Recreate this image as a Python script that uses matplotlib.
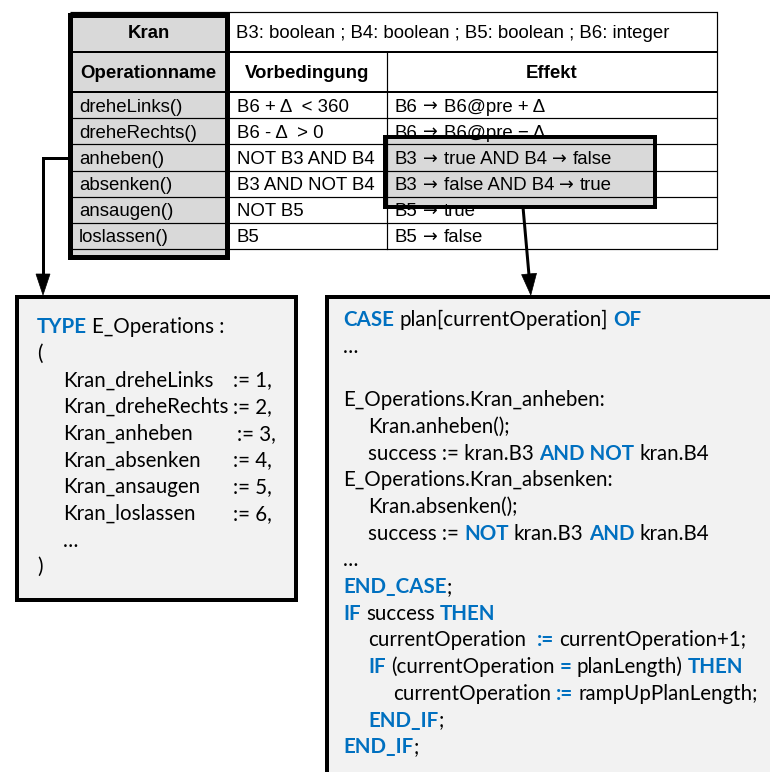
import re
import matplotlib
matplotlib.use("Agg")
import matplotlib.pyplot as plt
from matplotlib.patches import Rectangle, Polygon
from matplotlib.font_manager import FontProperties

# ---------------- data ----------------
class_name = "Kran"
attributes = "B3: boolean ; B4: boolean ; B5: boolean ; B6: integer"
col_headers = ["Operationname", "Vorbedingung", "Effekt"]
operations = ["dreheLinks()", "dreheRechts()", "anheben()", "absenken()", "ansaugen()", "loslassen()"]
preconditions = ["B6 + \u0394  < 360", "B6 - \u0394  > 0", "NOT B3 AND B4", "B3 AND NOT B4", "NOT B5", "B5"]
effects = ["B6 \u2192 B6@pre + \u0394", "B6 \u2192 B6@pre \u2212 \u0394", "B3 \u2192 true AND B4 \u2192 false",
           "B3 \u2192 false AND B4 \u2192 true", "B5 \u2192 true", "B5 \u2192 false"]

enum_header = "{TYPE} E_Operations :"
enum_names = ["Kran_dreheLinks", "Kran_dreheRechts", "Kran_anheben", "Kran_absenken", "Kran_ansaugen", "Kran_loslassen"]
enum_values = [1, 2, 3, 4, 5, 6]

code_lines = [
    "{CASE} plan[currentOperation] {OF}",
    "\u2026",
    "",
    "E_Operations.Kran_anheben:",
    "Kran.anheben();",
    "success := kran.B3 {AND NOT} kran.B4",
    "E_Operations.Kran_absenken:",
    "Kran.absenken();",
    "success := {NOT} kran.B3 {AND} kran.B4",
    "\u2026",
    "{END_CASE};",
    "{IF} success {THEN}",
    "currentOperation  {:=} currentOperation+1;",
    "{IF} (currentOperation {=} planLength) {THEN}",
    "currentOperation {:=} rampUpPlanLength;",
    "{END_IF};",
    "{END_IF};",
]
code_indent = [0, 0, 0, 0, 1, 1, 0, 1, 1, 0, 0, 0, 1, 1, 2, 1, 0]

# ---------------- layout ----------------
W, H = 770, 772
fig = plt.figure(figsize=(W / 100, H / 100), dpi=100)
ax = fig.add_axes([0, 0, 1, 1])
ax.set_xlim(0, W)
ax.set_ylim(H, 0)
ax.axis("off")
fig.canvas.draw()
renderer = fig.canvas.get_renderer()

PX = 0.72  # points per pixel
GRAY = "#d9d9d9"
BOX = "#f2f2f2"
BLUE = "#0070c0"

tab_fam = ["Liberation Sans", "DejaVu Sans"]
TS = 13.4
code_fam = ["Lato", "DejaVu Sans"]
CS = 14.8

fp_t = FontProperties(family=tab_fam, size=TS)
fp_arrow = FontProperties(family=["DejaVu Sans"], size=TS * 0.95)
fp_n = FontProperties(family=code_fam, size=CS)
fp_b = FontProperties(family=code_fam, size=CS, weight="bold")


def tw(s, fp):
    if not s:
        return 0.0
    w, h, d = renderer.get_text_width_height_descent(s, fp, ismath=False)
    return w


def spw(fp):
    return tw("n n", fp) - tw("nn", fp)


def adv(s, fp):
    return tw(s + "|", fp) - tw("|", fp)


x0, x1, x2, x3 = 70, 227, 387, 717
row_y = [12, 52, 92, 118, 144, 171, 197, 223, 249]

# gray fills
ax.add_patch(Rectangle((x0, 15), x1 - x0, 257 - 15, facecolor=GRAY, edgecolor="none", zorder=1))
ax.add_patch(Rectangle((385, 137), 655 - 385, 207 - 137, facecolor=GRAY, edgecolor="none", zorder=1))

# table grid
for i, y in enumerate(row_y):
    lw = 2.0 if i in (1, 2) else 1.2
    ax.plot([x0, x3], [y, y], color="black", lw=lw * PX, zorder=2, solid_capstyle="butt")
ax.plot([x2, x2], [row_y[1], row_y[-1]], color="black", lw=1.2 * PX, zorder=2)
ax.plot([x3, x3], [row_y[0], row_y[-1]], color="black", lw=1.2 * PX, zorder=2)


def ttext(x, y, s, ha="left", bold=False):
    ax.text(x, y, s, ha=ha, va="baseline", fontsize=TS, family=tab_fam,
            fontweight="bold" if bold else "normal", color="black", zorder=3)


ARROW = "\u2192"


def effect_text(x, y, s):
    # text in Liberation Sans; arrow glyphs drawn with DejaVu Sans
    sp = spw(fp_t)
    for k, part in enumerate(s.split(" " + ARROW + " ")):
        if k > 0:
            x += sp
            ax.text(x, y - 0.5, ARROW, fontproperties=fp_arrow, color="black",
                    ha="left", va="baseline", zorder=3)
            x += tw(ARROW, fp_arrow) + sp + 1
        ax.text(x, y, part, fontproperties=fp_t, color="black",
                ha="left", va="baseline", zorder=3)
        x += adv(part, fp_t)


def baseline(r):
    return (row_y[r] + row_y[r + 1]) / 2 + 6.5


ttext((x0 + x1) / 2, baseline(0), class_name, ha="center", bold=True)
ttext(236, baseline(0), attributes)
ttext((x0 + x1) / 2, baseline(1), col_headers[0], ha="center", bold=True)
ttext((x1 + x2) / 2, baseline(1), col_headers[1], ha="center", bold=True)
ttext((x2 + x3) / 2, baseline(1), col_headers[2], ha="center", bold=True)
for i in range(len(operations)):
    b = baseline(i + 2)
    ttext(79, b, operations[i])
    ttext(237, b, preconditions[i])
    effect_text(395, b, effects[i])

# thick borders
ax.add_patch(Rectangle((x0, 15), x1 - x0, 257 - 15, facecolor="none", edgecolor="black",
                       lw=5 * PX, zorder=4))
ax.add_patch(Rectangle((385, 137), 655 - 385, 207 - 137, facecolor="none", edgecolor="black",
                       lw=4 * PX, zorder=4))

# code boxes
ax.add_patch(Rectangle((16.5, 297), 296 - 16.5, 600 - 297, facecolor=BOX, edgecolor="black",
                       lw=4 * PX, zorder=1))
ax.add_patch(Rectangle((326.5, 297), 500, 520, facecolor=BOX, edgecolor="black",
                       lw=4 * PX, zorder=1))


def run(x, y, txt, fp, color):
    """Draw one run of text (may have leading/trailing spaces); return new x."""
    sp = spw(fp)
    lead = len(txt) - len(txt.lstrip(" "))
    trail = len(txt) - len(txt.rstrip(" "))
    core = txt.strip(" ")
    x += lead * sp
    if core:
        ax.text(x, y, core, fontproperties=fp, color=color, ha="left", va="baseline", zorder=3)
        x += adv(core, fp)
    x += trail * sp
    return x


def rich(x, y, s):
    for p in re.split(r"(\{[^}]*\})", s):
        if not p:
            continue
        if p.startswith("{"):
            x = run(x, y, p[1:-1], fp_b, BLUE)
        else:
            x = run(x, y, p, fp_n, "black")
    return x


# left box: enum
LS = 26.7
ly0 = 333
rich(37, ly0, enum_header)
rich(37, ly0 + LS, "(")
for i, (n, v) in enumerate(zip(enum_names, enum_values)):
    y = ly0 + (i + 2) * LS
    rich(63, y, n)
    rich(237 if i == 2 else 233, y, ":= %d," % v)
rich(63, ly0 + 8 * LS, "\u2026")
rich(37, ly0 + 9 * LS, ")")

# right box: code
ry0 = 326
for i, (line, ind) in enumerate(zip(code_lines, code_indent)):
    if line:
        rich(343 + ind * 25, ry0 + i * LS, line)

# arrows
AL = 3 * PX
ax.plot([70, 43, 43], [158, 158, 276], color="black", lw=AL, zorder=4, solid_joinstyle="miter")
ax.add_patch(Polygon([(36, 274), (50, 274), (43, 295)], closed=True, facecolor="black",
                     edgecolor="black", lw=0.5, zorder=4))
ax.plot([523, 528.9], [207, 274], color="black", lw=AL, zorder=4)
ax.add_patch(Polygon([(521.6, 274.6), (536.5, 273.3), (530.8, 295)], closed=True, facecolor="black",
                     edgecolor="black", lw=0.5, zorder=4))

fig.savefig("out.png", dpi=100)
